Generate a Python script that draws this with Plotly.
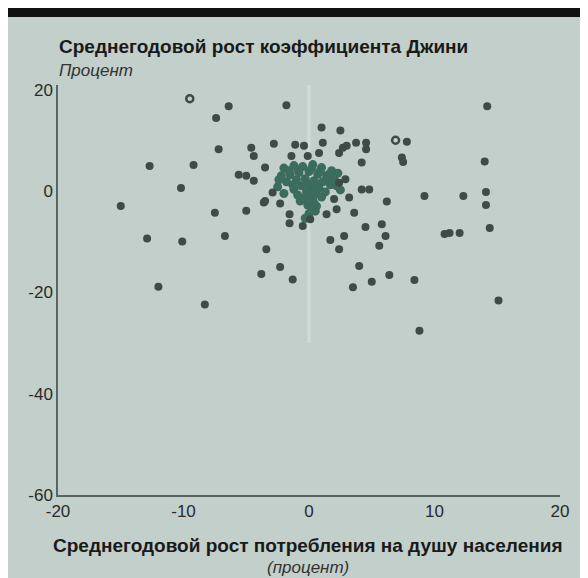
import plotly.graph_objects as go

# ---- data ----
x_main = [-6.4, -7.4, -1.8, 14.2, 1.0, 2.5, 7.8, -7.2, -4.6, -4.4, -2.8, -1.1, -0.4, 1.1, 2.7, 3.0,
          3.75, 4.55, 4.55, 0.8, 2.4, -1.4, -0.1, 4.2, 7.4, 7.5, 14.0, -12.7, -9.2, -3.5, -5.6, -5.0,
          -4.4, -10.2, -15.0, -7.5, -5.0, -12.9, -10.1, -6.7, -12.0, -8.3, -3.8, -2.3, -1.3, -3.4,
          -3.6, -2.3, -2.9, -3.5, -1.55, -1.55, -0.5, 0.1, 1.4, 2.2, 3.6, 4.5, 2.8, 1.7, 2.4, 4.0,
          3.5, 5.0, 6.4, 8.4, 15.1, 8.8, 5.8, 6.1, 5.6, 10.8, 11.2, 12.0, 14.4, 14.1, 14.1, 12.3,
          9.2, 6.2, 4.2, 4.8, 3.2, 2.9, 2.4, 2.0]
y_main = [16.7, 14.4, 16.9, 16.7, 12.5, 11.9, 9.7, 8.2, 8.5, 6.9, 9.3, 9.1, 8.9, 9.5, 8.5, 8.9,
          9.5, 9.5, 8.2, 7.5, 7.5, 6.9, 6.9, 5.6, 6.6, 5.7, 5.8, 4.9, 5.1, 4.6, 3.2, 3.0,
          2.0, 0.6, -3.0, -4.3, -3.9, -9.4, -10.0, -8.9, -18.9, -22.4, -16.4, -15.0, -17.5, -11.5,
          -2.3, -2.5, -0.3, -2.0, -4.6, -6.4, -6.9, -5.6, -4.6, -3.6, -4.3, -7.1, -8.9, -9.7, -11.5, -14.8,
          -19.0, -17.9, -16.6, -17.6, -21.6, -27.6, -6.6, -8.9, -10.8, -8.5, -8.3, -8.3, -7.3, -0.2, -2.8, -1.0,
          -1.0, -2.1, 0.3, 0.3, -1.3, 2.3, 1.6, -1.6]

x_open = [-9.5, 6.9]
y_open = [18.2, 10.0]

x_cluster = [-2.0, -1.2, -0.5, 0.3, 1.0, 1.8, 2.3, -2.2, -1.5, -0.8, 0.0, 0.7, 1.4, 2.0,
             -1.8, -1.0, -0.3, 0.4, 1.1, 1.7, -0.6, 0.1, 0.8, -1.2, 0.5, -0.2, 1.3,
             -0.4, 0.3, 1.0, -0.1, 0.6, -2.5, -2.0, 2.5, -0.9,
             -1.6, -0.9, 0.2, 0.9, 1.6, -1.3, -0.2, 0.6, 1.5, 0.0, 0.4, -0.7, 0.2,
             0.0, -0.3, 0.5, 0.2, -2.4, 2.2]
y_cluster = [4.5, 5.0, 4.8, 5.2, 4.6, 4.0, 3.5, 3.0, 3.2, 3.6, 3.8, 3.3, 3.0, 2.6,
             1.8, 2.2, 2.4, 2.0, 1.8, 1.2, 1.0, 0.8, 0.5, 0.3, -0.5, -0.2, -0.2,
             -1.5, -1.8, -1.2, -2.8, -3.0, 0.8, -0.5, 0.2, -0.8,
             4.0, 4.2, 4.4, 4.0, 3.3, 1.2, 1.6, 1.4, 2.2, -1.0, -2.4, -2.0, 0.0,
             -4.5, -5.4, -4.0, -3.6, 2.2, 1.0]

x_ticks = [-20, -10, 0, 10, 20]
y_ticks = [20, 0, -20, -40, -60]

title_text = "Среднегодовой рост коэффициента Джини"
subtitle_text = "Процент"
xtitle_text = "Среднегодовой рост потребления на душу населения"
xsub_text = "(процент)"

PANEL = "#c2cfca"
FONT = "Liberation Sans, Arial, sans-serif"

fig = go.Figure()
fig.add_trace(go.Scatter(x=x_cluster, y=y_cluster, mode="markers",
                         marker=dict(size=9, color="#3b6c5d"), hoverinfo="x+y"))
fig.add_trace(go.Scatter(x=x_main, y=y_main, mode="markers",
                         marker=dict(size=8, color="#3f4b47"), hoverinfo="x+y"))
fig.add_trace(go.Scatter(x=x_open, y=y_open, mode="markers",
                         marker=dict(size=7, color="#3f4b47", symbol="circle-open",
                                     line=dict(width=2.5, color="#3f4b47")), hoverinfo="x+y"))

shapes = [
    # zero line
    dict(type="line", xref="x", yref="y", x0=0, x1=0, y0=-30, y1=20.9,
         line=dict(color="#d2dcd8", width=3), layer="below"),
    # black bar at top
    dict(type="rect", xref="paper", yref="paper", x0=-0.3, x1=1.3, y0=1.166, y1=1.3,
         fillcolor="#111111", line=dict(width=0), layer="above"),
    # right light strip
    dict(type="rect", xref="paper", yref="paper", x0=1.0418, x1=1.3, y0=-0.3, y1=1.166,
         fillcolor="#eef3f1", line=dict(width=0), layer="above"),
]

annotations = [
    dict(text="<b>" + title_text + "</b>", xref="paper", yref="paper", x=-0.002, y=1.095,
         xanchor="left", yanchor="middle", showarrow=False,
         font=dict(family=FONT, size=19, color="#1a1a1a")),
    dict(text="<i>" + subtitle_text + "</i>", xref="paper", yref="paper", x=-0.002, y=1.036,
         xanchor="left", yanchor="middle", showarrow=False,
         font=dict(family=FONT, size=17, color="#333333")),
    dict(text="<b>" + xtitle_text + "</b>", xref="paper", yref="paper", x=0.498, y=-0.122,
         xanchor="center", yanchor="middle", showarrow=False,
         font=dict(family=FONT, size=19, color="#1a1a1a")),
    dict(text="<i>" + xsub_text + "</i>", xref="paper", yref="paper", x=0.498, y=-0.176,
         xanchor="center", yanchor="middle", showarrow=False,
         font=dict(family=FONT, size=17, color="#333333")),
]

fig.update_layout(
    width=580, height=570,
    margin=dict(l=50, r=28, t=77, b=83),
    paper_bgcolor=PANEL, plot_bgcolor=PANEL,
    showlegend=False,
    shapes=shapes, annotations=annotations,
    font=dict(family=FONT, size=17, color="#2a2a2a"),
    xaxis=dict(range=[-20, 20], tickvals=x_ticks, ticktext=[str(v) for v in x_ticks],
               showgrid=False, zeroline=False, showline=True, linecolor="#5a6461",
               linewidth=1.5, ticks="", tickfont=dict(size=17, color="#2a2a2a")),
    yaxis=dict(range=[-60, 20.9], tickvals=y_ticks, ticktext=[str(v) for v in y_ticks],
               showgrid=False, zeroline=False, showline=True, linecolor="#5a6461",
               linewidth=1.5, ticks="", tickfont=dict(size=17, color="#2a2a2a")),
)

fig.write_html("out.html")
